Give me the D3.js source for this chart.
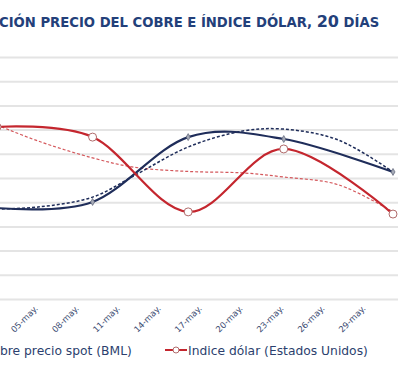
<!DOCTYPE html>
<html>
<head>
<meta charset="utf-8">
<script src="https://cdn.jsdelivr.net/npm/d3@7"></script>
<style>
  body { margin: 0; background: #fff; }
  svg { display: block; }
</style>
</head>
<body>
<script>
// datos (escala de índice arbitraria, eje Y recortado)
const dates = ['2013-05-02', '2013-05-09', '2013-05-16', '2013-05-23', '2013-05-31'];
const cobre = [3.76, 4.01, 6.69, 6.61, 5.25];
const dolar = [7.11, 6.69, 3.60, 6.20, 3.51];

// líneas de tendencia (punteadas)
const trendDates = ['2013-05-02', '2013-05-05', '2013-05-09', '2013-05-12', '2013-05-16',
                    '2013-05-20', '2013-05-23', '2013-05-27', '2013-05-31'];
const cobreTrend = [3.72, 3.80, 4.21, 5.08, 6.28, 6.94, 7.02, 6.57, 5.25];
const dolarTrend = [7.19, 6.53, 5.83, 5.45, 5.27, 5.21, 5.04, 4.72, 3.60];

const tickDates = ['2013-05-05', '2013-05-08', '2013-05-11', '2013-05-14', '2013-05-17',
                   '2013-05-20', '2013-05-23', '2013-05-26', '2013-05-29'];
const tickLabels = ['05-may.', '08-may.', '11-may.', '14-may.', '17-may.',
                    '20-may.', '23-may.', '26-may.', '29-may.'];
const yTicks = [0, 1, 2, 3, 4, 5, 6, 7, 8, 9, 10];

const parse = d3.timeParse('%Y-%m-%d');
const W = 400, H = 388;
const plot = { left: -60, right: 398, top: 57, bottom: 299 };
const navy = '#1f2d5a', red = '#c4262e', textNavy = '#23407a';

const svg = d3.select(document.body).append('svg')
  .attr('width', W).attr('height', H);

const x = d3.scaleTime()
  .domain([parse(dates[0]), parse(dates[dates.length - 1])])
  .range([-3, 393]);
const y = d3.scaleLinear().domain([0, 10]).range([plot.bottom, plot.top]);

// titulo (recortado a la izquierda como en el original)
const title = svg.append('text')
  .attr('x', -1).attr('y', 27)
  .attr('font-family', 'DejaVu Sans, Verdana, sans-serif')
  .attr('font-weight', 'bold')
  .attr('font-size', 13.2)
  .attr('fill', textNavy);
title.append('tspan').text('CIÓN PRECIO DEL COBRE E ÍNDICE DÓLAR, ');
title.append('tspan').attr('font-size', 16).text('20');
title.append('tspan').text(' DÍAS');

// grilla horizontal
const yAxis = d3.axisLeft(y).tickValues(yTicks)
  .tickSize(-(plot.right - plot.left)).tickFormat('');
svg.append('g')
  .attr('transform', `translate(${plot.left},0)`)
  .call(yAxis)
  .call(g => g.select('.domain').remove())
  .call(g => g.selectAll('line').attr('stroke', '#e4e4e4').attr('stroke-width', 2));

// eje X
const xAxis = d3.axisBottom(x)
  .tickValues(tickDates.map(parse))
  .tickSize(0)
  .tickFormat((d, i) => tickLabels[i]);
svg.append('g')
  .attr('transform', `translate(0,${plot.bottom})`)
  .call(xAxis)
  .call(g => g.select('.domain').remove())
  .call(g => g.selectAll('text')
    .attr('font-family', 'DejaVu Sans, Verdana, sans-serif')
    .attr('font-size', 8.5)
    .attr('fill', '#3a4a70')
    .attr('text-anchor', 'end')
    .attr('x', 0).attr('y', 0).attr('dy', 0)
    .attr('transform', 'translate(0,10) rotate(-45)'));

svg.append('clipPath').attr('id', 'plotclip')
  .append('rect').attr('x', plot.left).attr('y', 0)
  .attr('width', plot.right - plot.left).attr('height', plot.bottom + 5);

const g = svg.append('g').attr('clip-path', 'url(#plotclip)');

const trendLine = d3.line()
  .x(d => x(d.date)).y(d => y(d.v))
  .curve(d3.curveCatmullRom);
const smoothLine = d3.line()
  .x(d => x(d.date)).y(d => y(d.v))
  .curve(d3.curveCardinal);

const rows = (ds, vs) => ds.map((d, i) => ({ date: parse(d), v: vs[i] }));

g.append('path').datum(rows(trendDates, dolarTrend))
  .attr('d', trendLine).attr('fill', 'none')
  .attr('stroke', '#d4585c').attr('stroke-width', 1.2)
  .attr('stroke-dasharray', '3,2');
g.append('path').datum(rows(trendDates, cobreTrend))
  .attr('d', trendLine).attr('fill', 'none')
  .attr('stroke', navy).attr('stroke-width', 1.5)
  .attr('stroke-dasharray', '3,2');

g.append('path').datum(rows(dates, cobre))
  .attr('d', smoothLine).attr('fill', 'none')
  .attr('stroke', navy).attr('stroke-width', 2.2);
g.append('path').datum(rows(dates, dolar))
  .attr('d', smoothLine).attr('fill', 'none')
  .attr('stroke', red).attr('stroke-width', 2.2);

// marcadores
g.selectAll('.mk-cobre').data(rows(dates, cobre)).join('path')
  .attr('class', 'mk-cobre')
  .attr('d', d3.symbol(d3.symbolDiamond, 14))
  .attr('transform', d => `translate(${x(d.date)},${y(d.v)})`)
  .attr('fill', '#a4a9b6').attr('stroke', '#5b6275').attr('stroke-width', 0.7);
g.selectAll('.mk-dolar').data(rows(dates, dolar)).join('circle')
  .attr('class', 'mk-dolar')
  .attr('cx', d => x(d.date)).attr('cy', d => y(d.v)).attr('r', 4)
  .attr('fill', '#fff').attr('stroke', '#b06a6a').attr('stroke-width', 1);

// leyenda
const legend = svg.append('g')
  .attr('font-family', 'DejaVu Sans, Verdana, sans-serif')
  .attr('font-size', 12.3)
  .attr('fill', '#2c3f6e');
legend.append('text').attr('x', 0).attr('y', 355).text('bre precio spot (BML)');
legend.append('line').attr('x1', 165).attr('x2', 187).attr('y1', 350).attr('y2', 350)
  .attr('stroke', red).attr('stroke-width', 2);
legend.append('circle').attr('cx', 176).attr('cy', 350).attr('r', 3)
  .attr('fill', '#fff').attr('stroke', '#b06a6a');
legend.append('text').attr('x', 188).attr('y', 355).text('Indice dólar (Estados Unidos)');
</script>
</body>
</html>
